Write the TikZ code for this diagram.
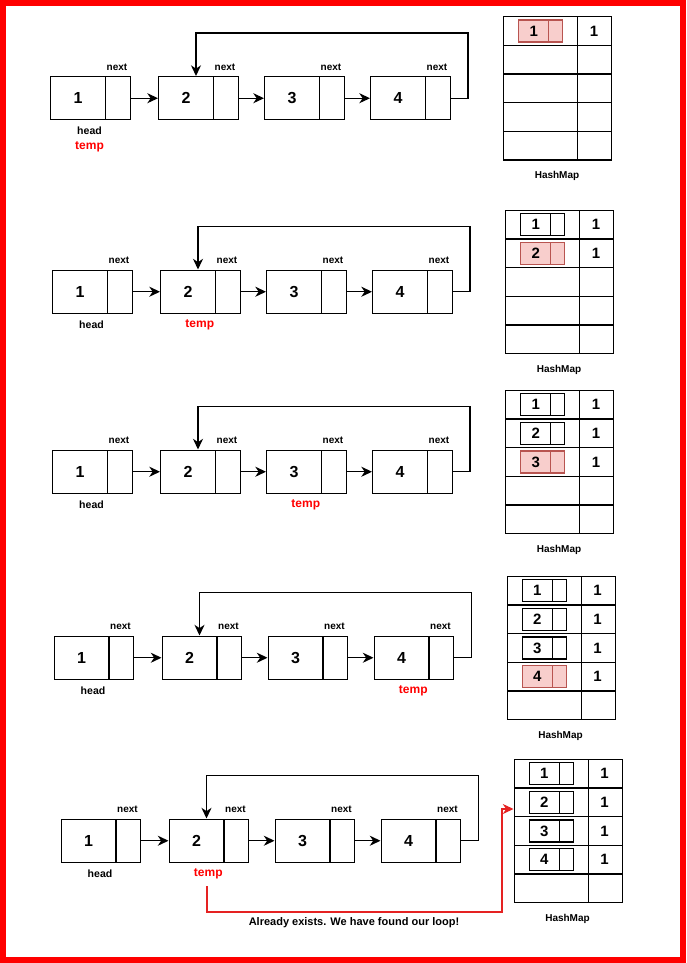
\documentclass[tikz,border=0pt]{standalone}
\usepackage{fontspec}
\setmainfont{Liberation Sans}
\usetikzlibrary{arrows.meta}
\definecolor{hl}{HTML}{F8CECC}
\definecolor{hlb}{HTML}{B85450}
\definecolor{foundred}{HTML}{E52222}

\tikzset{
  data/.style={draw, line width=1.1pt, minimum width=40.9pt, minimum height=32.25pt, inner sep=0pt, anchor=north west, font=\bfseries\fontsize{12}{14}\selectfont},
  ptr/.style={draw, line width=1.1pt, minimum width=18.75pt, minimum height=32.25pt, inner sep=0pt, anchor=north west},
  lbl/.style={inner sep=0pt, font=\bfseries\fontsize{7.5}{9}\selectfont},
  headlbl/.style={inner sep=0pt, font=\bfseries\fontsize{7.9}{9}\selectfont},
  templbl/.style={inner sep=0pt, text=red, font=\bfseries\fontsize{9}{11}\selectfont},
  link/.style={line width=1pt, -{Stealth[length=8pt,width=7.5pt,inset=2.5pt]}},
  hkey/.style={draw, line width=1pt, minimum width=55.5pt, minimum height=21.5pt, inner sep=0pt, anchor=north west},
  hval/.style={draw, line width=1pt, minimum width=25.5pt, minimum height=21.5pt, inner sep=0pt, anchor=north west},
  minid/.style={line width=1pt, minimum width=22.5pt, minimum height=16.5pt, inner sep=0pt, anchor=west, font=\bfseries\fontsize{11.25}{13}\selectfont},
  minip/.style={line width=1pt, minimum width=10.5pt, minimum height=16.5pt, inner sep=0pt, anchor=west},
  hnum/.style={inner sep=0pt, font=\bfseries\fontsize{11.25}{13}\selectfont},
  found/.style={draw=foundred, line width=0.8pt, -{Stealth[length=8pt,width=7.5pt,inset=2.5pt]}},
  msg/.style={inner sep=0pt, font=\bfseries\fontsize{8.25}{10}\selectfont},
}

% #1 shift x, #2 shift y, #3 prefix, #4 temp index, #5 entries, #6 highlighted entry
\newcommand\llpanel[6]{%
\begin{scope}[shift={(#1,#2)}]
  \foreach \k/\xx in {1/50,2/158,3/264,4/370}{
    \node[data] (#3d\k) at (\xx,76) {\k};
    \node[ptr] (#3p\k) at (\xx+54.5,76) {};
    \node[lbl] (#3nx\k) at (\xx+67,67) {next};
  }
  \draw[link] (#3p1.east) -- (#3d2.west);
  \draw[link] (#3p2.east) -- (#3d3.west);
  \draw[link] (#3p3.east) -- (#3d4.west);
  \coordinate (#3c2) at (468,33);
  \coordinate (#3c3) at (196,33);
  \draw[link] (#3p4.east) -| (#3c2) -- (#3c3) -- (#3d2.north -| #3c3);
  \node[headlbl] (#3head) at (89.5,131) {head};
  \ifnum#4=1
    \node[templbl] (#3temp) at (89.5,147) {temp};
  \else
    \pgfmathsetmacro\tx{{50,158,264,370}[#4-1]+39.75}
    \node[templbl] (#3temp) at (\tx,131.5) {temp};
  \fi
  \foreach \r in {1,...,5}{
    \pgfmathsetmacro\ry{16+(\r-1)*28.7}
    \node[hkey] (#3k\r) at (503,\ry) {};
    \node[hval] (#3v\r) at (577,\ry) {};
  }
  \foreach \r in {1,...,#5}{
    \pgfmathsetmacro\rc{16+(\r-0.5)*28.7+0.7}
    \ifnum\r=#6 \def\mfill{hl}\def\mdraw{hlb}\else\def\mfill{white}\def\mdraw{black}\fi
    \node[minid, fill=\mfill, draw=\mdraw] (#3m\r) at (518,\rc) {\r};
    \node[minip, fill=\mfill, draw=\mdraw] (#3q\r) at (548,\rc) {};
    \node[hnum] (#3w\r) at (594,\rc) {1};
  }
  \node[lbl] (#3hm) at (557,176) {HashMap};
\end{scope}}

\begin{document}
\begin{tikzpicture}[x=0.75pt,y=-0.75pt]
\fill[red] (0,0) rectangle (686,963);
\fill[white] (6,6) rectangle (680,957);
\useasboundingbox (0,0) rectangle (686,963);

\llpanel{0}{0}{a}{1}{1}{1}
\llpanel{2}{193.5}{b}{2}{2}{2}
\llpanel{2}{373.5}{c}{3}{3}{3}
\llpanel{3.5}{559.5}{d}{4}{4}{4}
\llpanel{10.5}{742.5}{e}{2}{4}{0}

\begin{scope}[shift={(10.5,742.5)}]
  \coordinate (eS) at (196.5,143.5);
  \coordinate (eB) at (491.5,169.5);
  \coordinate (eT) at (491.5,66.5);
  \draw[found] (eS) |- (eB) -- (eT) -- (ek2.west |- eT);
  \node[msg] (emsg) at (343.5,180.5) {Already exists. We have found our loop!};
\end{scope}
\end{tikzpicture}
\end{document}
